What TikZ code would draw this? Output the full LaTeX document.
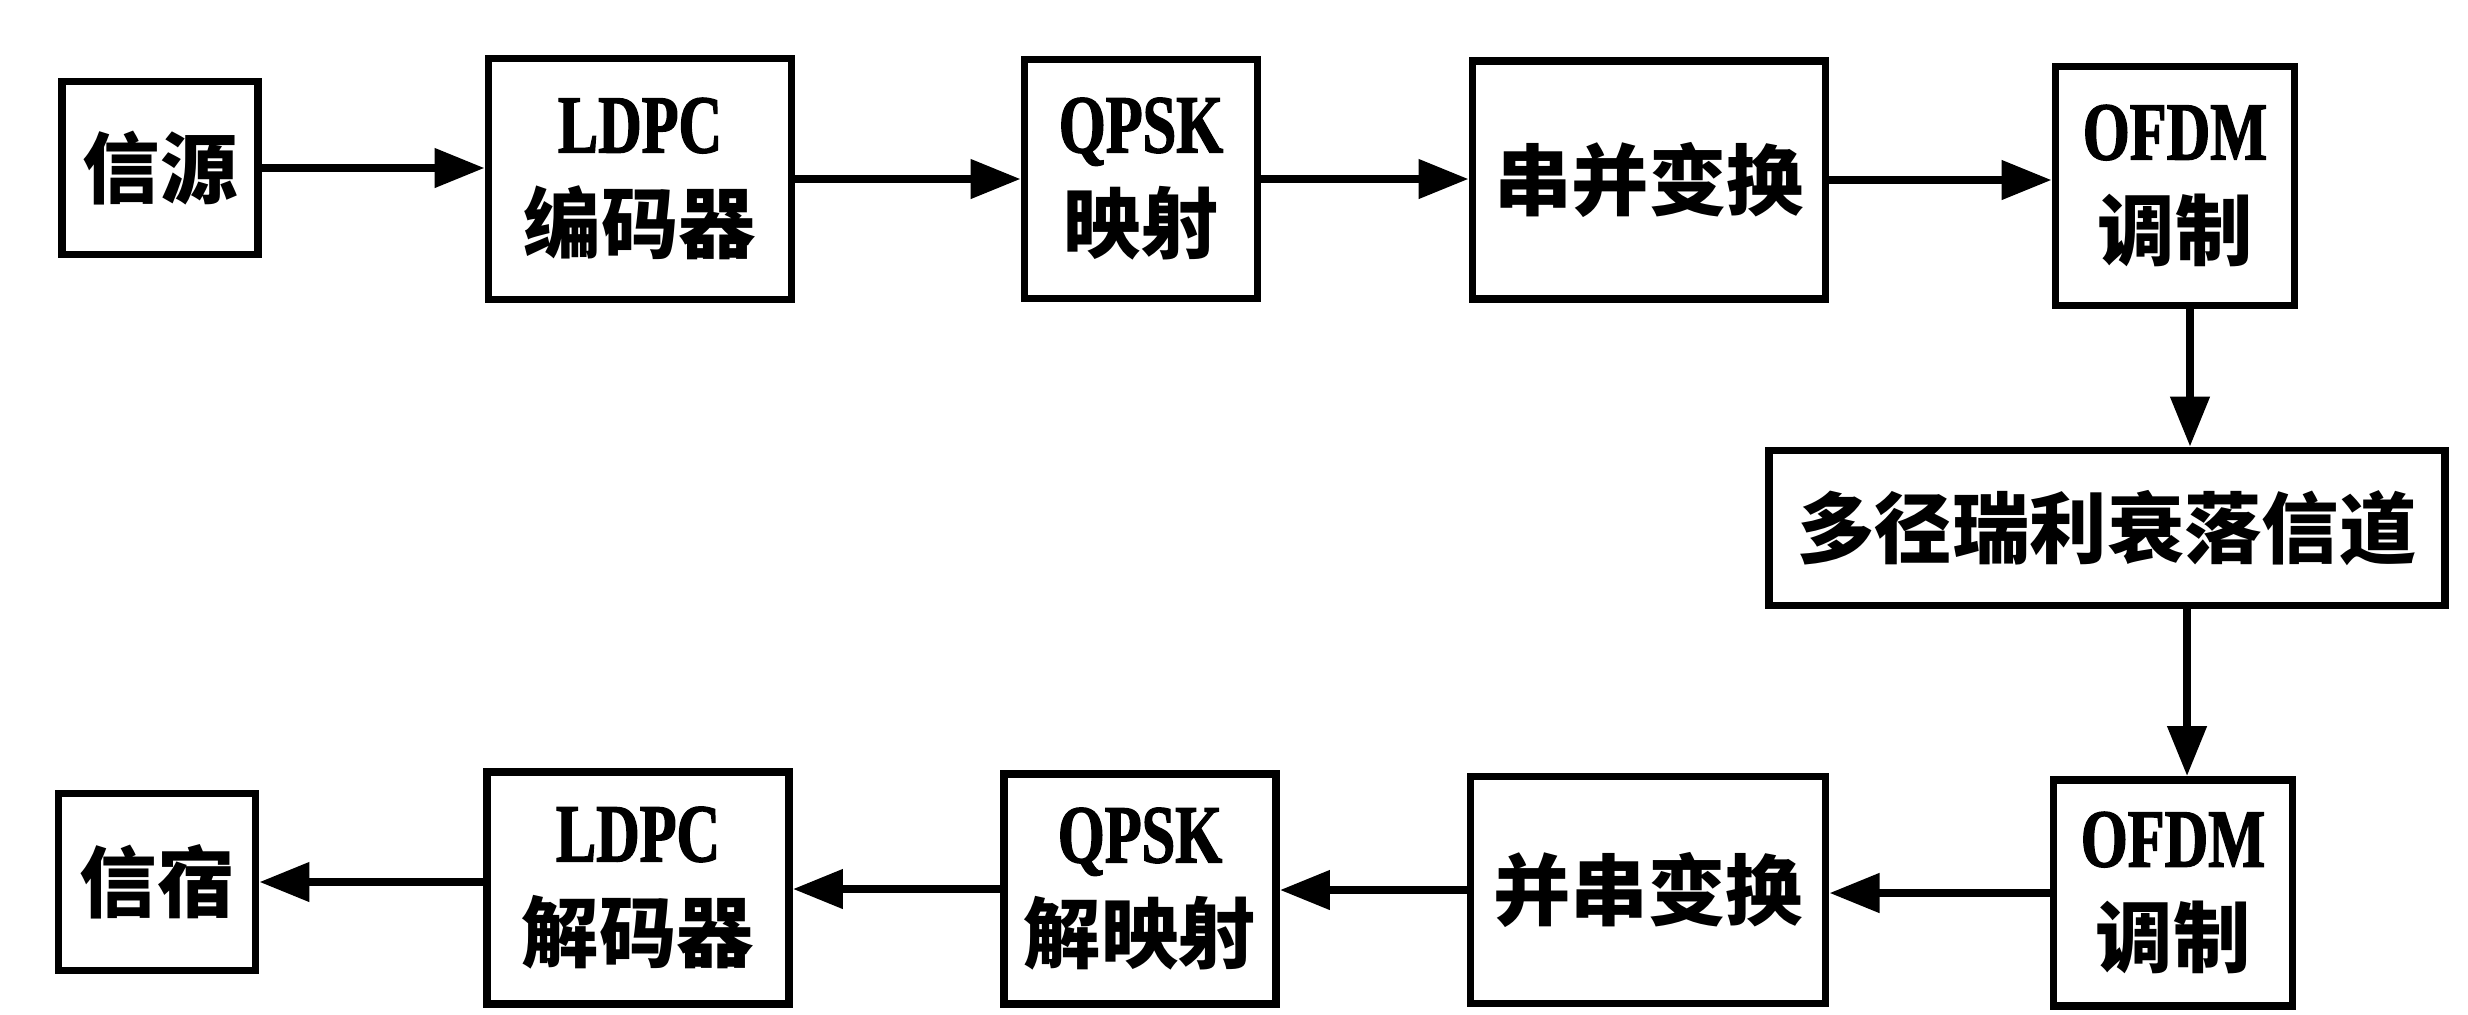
\documentclass[tikz,border=0pt]{standalone}
\usepackage{fontspec}
\newfontfamily\cjk{Noto Sans CJK SC}
\newfontfamily\latn[FakeStretch=0.73, FakeBold=1.6]{Liberation Serif}
\usetikzlibrary{arrows.meta,calc}
\newcommand{\latword}[1]{{\latn\fontsize{23.5}{28.5}\selectfont #1}}
\tikzset{
  blk/.style={draw, line width=2.2pt, rectangle, inner sep=0pt, align=center,
    font=\cjk\bfseries\fontsize{22}{28.5}\selectfont},
  arr/.style={line width=2.2pt, -{Triangle[length=0.5cm,width=0.38cm]}},
}
\begin{document}
\begin{tikzpicture}[x=0.01cm, y=-0.01cm]
\useasboundingbox (0,0) rectangle (2468,1014);
% top row
\node[blk, minimum width=1.96cm, minimum height=1.73cm] (src) at (160,168) {信源};
\node[blk, minimum width=3.03cm, minimum height=2.41cm] (enc) at (640,179) {\latword{LDPC}\\编码器};
\node[blk, minimum width=2.33cm, minimum height=2.39cm] (qpsk) at (1141,179) {\latword{QPSK}\\映射};
\node[blk, minimum width=3.53cm, minimum height=2.38cm] (sp) at (1649,180) {串并变换};
\node[blk, minimum width=2.39cm, minimum height=2.39cm] (ofdm) at (2175,186) {\latword{OFDM}\\调制};
% channel
\node[blk, minimum width=6.76cm, minimum height=1.55cm] (chan) at (2107,528) {多径瑞利衰落信道};
% bottom row
\node[blk, minimum width=2.39cm, minimum height=2.26cm] (bofdm) at (2173,893) {\latword{OFDM}\\调制};
\node[blk, minimum width=3.55cm, minimum height=2.27cm] (ps) at (1648,890) {并串变换};
\node[blk, minimum width=2.72cm, minimum height=2.30cm] (dqpsk) at (1140,889) {\latword{QPSK}\\解映射};
\node[blk, minimum width=3.02cm, minimum height=2.32cm] (dec) at (638,888) {\latword{LDPC}\\解码器};
\node[blk, minimum width=1.97cm, minimum height=1.77cm] (sink) at (157,882) {信宿};
% connectors
\draw[arr] (src.east) -- (src.east -| enc.west);
\draw[arr] (enc.east) -- (enc.east -| qpsk.west);
\draw[arr] (qpsk.east) -- (qpsk.east -| sp.west);
\draw[arr] (sp.east) -- (sp.east -| ofdm.west);
\draw[arr] ([xshift=0.15cm]ofdm.south) -- ([xshift=0.15cm]ofdm.south |- chan.north);
\draw[arr] ([xshift=0.80cm]chan.south) -- ([xshift=0.80cm]chan.south |- bofdm.north);
\draw[arr] (bofdm.west) -- (bofdm.west -| ps.east);
\draw[arr] (ps.west) -- (ps.west -| dqpsk.east);
\draw[arr] (dqpsk.west) -- (dqpsk.west -| dec.east);
\draw[arr] (dec.west |- sink.east) -- (sink.east);
\end{tikzpicture}
\end{document}
